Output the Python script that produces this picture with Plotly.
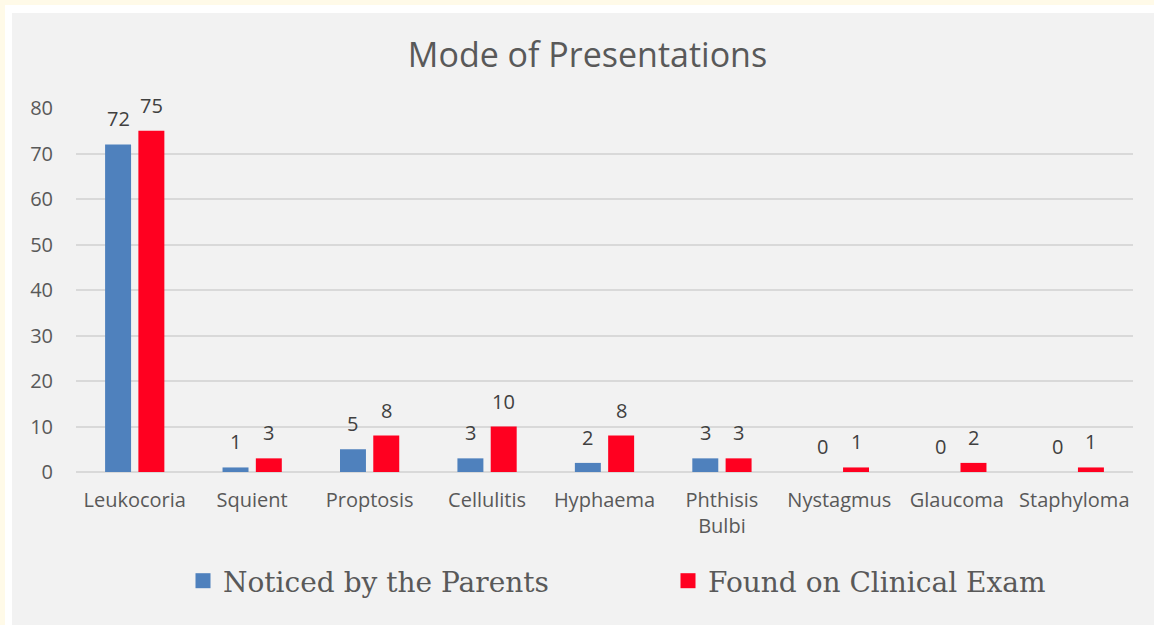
import plotly.graph_objects as go

categories = ["Leukocoria", "Squient", "Proptosis", "Cellulitis", "Hyphaema",
              "Phthisis<br>Bulbi", "Nystagmus", "Glaucoma", "Staphyloma"]
parents = [72, 1, 5, 3, 2, 3, 0, 0, 0]
clinical = [75, 3, 8, 10, 8, 3, 1, 2, 1]
series_names = ["Noticed by the Parents", "Found on Clinical Exam"]
colors = ["#4F81BD", "#FF0020"]
y_ticks = list(range(0, 81, 10))

W, H = 1154, 625
L, R, T, B = 76, 21, 108, 153
PW, PH = W - L - R, H - T - B


def px_x(px):
    return (px - L) / PW


def px_y(py):
    return 1 - (py - T) / PH


fig = go.Figure()
for name, vals, col in zip(series_names, [parents, clinical], colors):
    fig.add_trace(go.Bar(x=categories, y=vals, name=name, marker_color=col,
                         marker_line_width=0, showlegend=False, legendgroup=name))
# legend entries with larger square swatches
for name, col in zip(series_names, colors):
    fig.add_trace(go.Scatter(x=[None], y=[None], mode="markers", name=name,
                             legendgroup=name,
                             marker=dict(symbol="square", size=15, color=col)))

annotations = []
for vals, shift in [(parents, -16.65), (clinical, 16.65)]:
    for c, v in zip(categories, vals):
        annotations.append(dict(x=c, y=v, text=str(v), showarrow=False,
                                xref="x", yref="y", xshift=shift, yshift=10,
                                yanchor="bottom", xanchor="center",
                                font=dict(family="Open Sans", size=20, color="#404040")))

CREAM, WHITE = "#FFFAE8", "#FFFFFF"
shapes = [
    # white frame (top and left)
    dict(type="rect", xref="paper", yref="paper", layer="below",
         x0=px_x(-5), x1=px_x(W + 10), y0=px_y(13), y1=px_y(-5),
         fillcolor=WHITE, line_width=0),
    dict(type="rect", xref="paper", yref="paper", layer="below",
         x0=px_x(-5), x1=px_x(12), y0=px_y(H + 10), y1=px_y(-5),
         fillcolor=WHITE, line_width=0),
    # cream outer band (top and left)
    dict(type="rect", xref="paper", yref="paper", layer="below",
         x0=px_x(-5), x1=px_x(W + 10), y0=px_y(5), y1=px_y(-5),
         fillcolor=CREAM, line_width=0),
    dict(type="rect", xref="paper", yref="paper", layer="below",
         x0=px_x(-5), x1=px_x(5), y0=px_y(H + 10), y1=px_y(-5),
         fillcolor=CREAM, line_width=0),
]

fig.update_layout(
    width=W, height=H,
    margin=dict(l=L, r=R, t=T, b=B, autoexpand=False),
    paper_bgcolor="#F2F2F2",
    plot_bgcolor="rgba(0,0,0,0)",
    barmode="group", bargap=0.433, bargroupgap=0.22,
    title=dict(text="Mode of Presentations", x=px_x(587.5), xref="paper", xanchor="center",
               y=1 - 55 / H, yref="container", yanchor="middle",
               font=dict(family="Open Sans", size=34, color="#595959")),
    xaxis=dict(showgrid=False, showline=False, zeroline=False, ticks="",
               tickfont=dict(family="Open Sans", size=20, color="#595959"),
               ticklabelstandoff=14, automargin=False),
    yaxis=dict(range=[0, 80], tickvals=y_ticks, showgrid=True, gridcolor="#D9D9D9",
               gridwidth=1.5, zeroline=True, zerolinecolor="#D9D9D9", zerolinewidth=1.5,
               showline=False, ticks="",
               tickfont=dict(family="Open Sans", size=20, color="#595959"),
               ticklabelstandoff=22, automargin=False),
    legend=dict(orientation="h", x=px_x(668), xanchor="center", y=px_y(581), yanchor="middle",
                font=dict(family="DejaVu Serif", size=28, color="#595959"),
                entrywidthmode="pixels", entrywidth=440, bgcolor="rgba(0,0,0,0)"),
    shapes=shapes,
    annotations=annotations,
    showlegend=True,
)

fig.write_html("out.html", config={"displayModeBar": False},
               post_script="document.body.style.margin='0';")
